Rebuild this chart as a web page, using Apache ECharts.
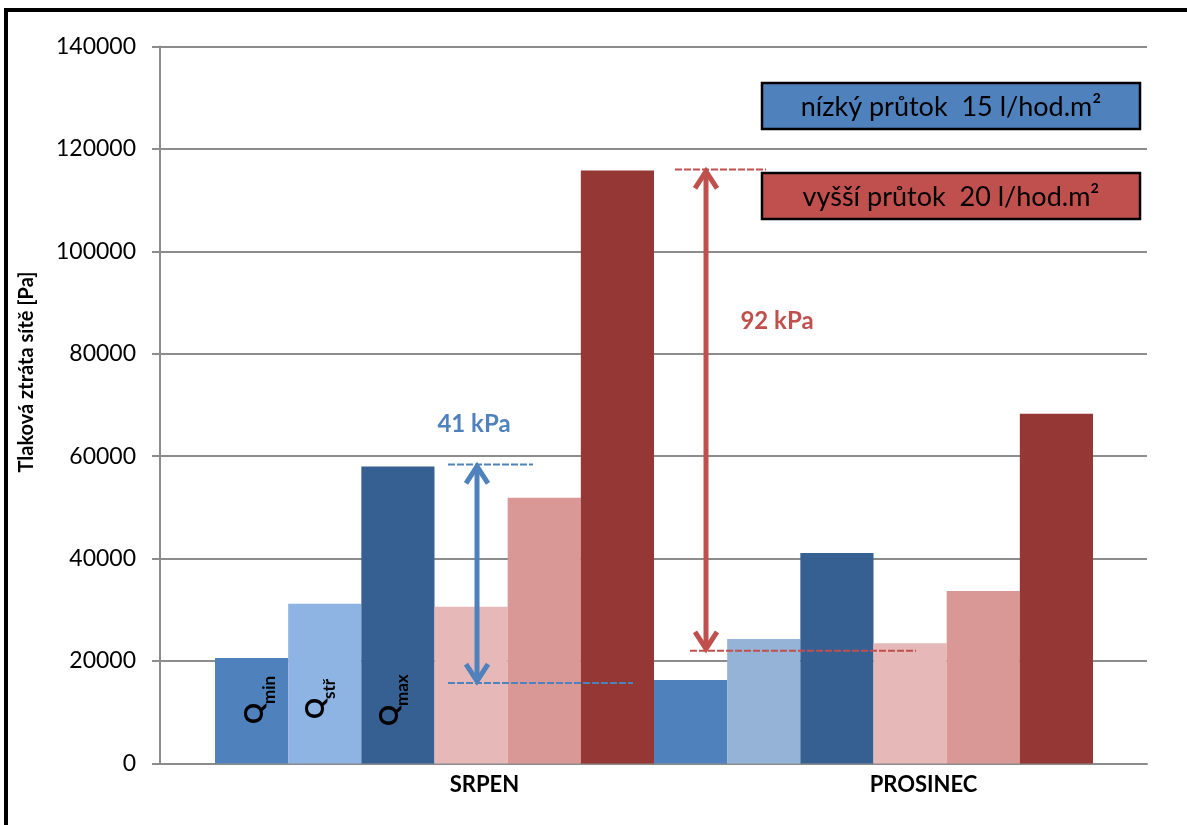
<!DOCTYPE html>
<html><head><meta charset="utf-8">
<script src="https://cdn.jsdelivr.net/npm/echarts@6/dist/echarts.min.js"></script>
<style>html,body{margin:0;padding:0;background:#fff}#c{width:1187px;height:825px}</style>
</head><body><div id="c"></div>
<script>
// ---- data ----
const categories = ['SRPEN', 'PROSINEC'];
const lowQmin  = [20600, 16300];
const lowQstr  = [31200, 24300];
const lowQmax  = [58000, 41100];
const highQmin = [30600, 23500];
const highQstr = [51900, 33700];
const highQmax = [115800, 68300];
const yMin = 0, yMax = 140000, yStep = 20000;
const legendLow  = 'nízký průtok  15 l/hod.m²';
const legendHigh = 'vyšší průtok  20 l/hod.m²';
const axisTitle = 'Tlaková ztráta sítě [Pa]';
const diffLow  = [15700, 58400];   // 41 kPa span
const diffHigh = [22000, 116000];  // 92 kPa span
const diffLowLabel = '41 kPa';
const diffHighLabel = '92 kPa';
const qSubs = ['min', 'stř', 'max'];

// ---- styles ----
const FONT = 'Lato';
const BLUE = '#4F81BD', RED = '#C0504D';
const GRID = '#8c8c8c';

const chart = echarts.init(document.getElementById('c'), null, {renderer: 'canvas'});

function bar(name, data, colors) {
  return {
    name, type: 'bar', xAxisIndex: 1, yAxisIndex: 1,
    data: data.map((v, i) => ({value: v, itemStyle: {color: colors[i]}})),
    barGap: '0%', barCategoryGap: '0%', silent: true
  };
}

chart.setOption({
  animation: false,
  backgroundColor: '#fff',
  grid: [
    {left: 160, right: 40, top: 46.5, bottom: 61.5},
    {left: 215, right: 94, top: 46.5, bottom: 61.5}
  ],
  xAxis: [
    {gridIndex: 0, type: 'category', data: [''], axisLine: {lineStyle: {color: GRID, width: 2}},
     axisTick: {show: false}, axisLabel: {show: false}},
    {gridIndex: 1, type: 'category', data: categories, axisLine: {show: false}, axisTick: {show: false},
     axisLabel: {fontFamily: FONT, fontWeight: 'bold', fontSize: 22, color: '#000', margin: 10,
                 padding: [0, 0, 0, 100]}}
  ],
  yAxis: [
    {gridIndex: 0, type: 'value', min: yMin, max: yMax, interval: yStep,
     axisLine: {show: true, lineStyle: {color: GRID, width: 2}},
     axisTick: {show: true, length: 8, lineStyle: {color: GRID, width: 2}},
     splitLine: {show: true, lineStyle: {color: GRID, width: 2}},
     axisLabel: {fontFamily: FONT, fontSize: 23, color: '#000', margin: 24,
                 formatter: v => String(v)}},
    {gridIndex: 1, type: 'value', min: yMin, max: yMax, interval: yStep, show: false,
     splitLine: {show: false}}
  ],
  series: [
    bar('nízký Qmin', lowQmin, ['#4F81BD', '#4F81BD']),
    bar('nízký Qstř', lowQstr, ['#8EB4E3', '#95B3D7']),
    bar('nízký Qmax', lowQmax, ['#376092', '#376092']),
    bar('vyšší Qmin', highQmin, ['#E6B9B8', '#E6B9B8']),
    bar('vyšší Qstř', highQstr, ['#D99795', '#D99795']),
    bar('vyšší Qmax', highQmax, ['#953735', '#953735'])
  ]
});

function py(v) { return chart.convertToPixel({yAxisIndex: 1}, v); }

function txt(x, y, text, size, weight, color, extra) {
  return Object.assign({type: 'text', x, y, z: 22,
    style: {text, fontFamily: FONT, fontSize: size, fontWeight: weight, fill: color,
            align: 'center', verticalAlign: 'middle'}}, extra || {});
}
function dashed(x1, x2, v, color) {
  const y = py(v);
  return {type: 'line', shape: {x1, y1: y, x2, y2: y}, z: 20,
          style: {stroke: color, lineWidth: 2, lineDash: [7, 2]}};
}
function arrow(x, vLow, vHigh, color) {
  const yT = py(vHigh), yB = py(vLow);
  return [
    {type: 'line', shape: {x1: x, y1: yT + 4, x2: x, y2: yB - 4}, z: 21,
     style: {stroke: color, lineWidth: 5}},
    {type: 'polyline', shape: {points: [[x - 11, yT + 19], [x, yT + 2], [x + 11, yT + 19]]}, z: 21,
     style: {stroke: color, lineWidth: 5, fill: null, lineJoin: 'miter'}},
    {type: 'polyline', shape: {points: [[x - 11, yB - 19], [x, yB - 2], [x + 11, yB - 19]]}, z: 21,
     style: {stroke: color, lineWidth: 5, fill: null, lineJoin: 'miter'}}
  ];
}
function legendBox(y, fill, text) {
  return [
    {type: 'rect', shape: {x: 762, y, width: 378, height: 46}, z: 30,
     style: {fill, stroke: '#000', lineWidth: 2.5}},
    txt(951, y + 24, text, 27, 'normal', '#000', {z: 31})
  ];
}
// rotated "Q" with subscript, reading bottom-to-top
function qLabel(qx, qBottom, sx, sub) {
  const rot = {rotation: Math.PI / 2, z: 25};
  const a = txt(qx, qBottom, 'Q', 26, 'bold', '#000', rot);
  a.style.align = 'left';
  const b = txt(sx, qBottom - 20, sub, 17, 'bold', '#000', rot);
  b.style.align = 'left';
  return [a, b];
}

const g = [];
g.push({type: 'rect', shape: {x: 6, y: 10, width: 1400, height: 1000}, z: 50,
        style: {fill: null, stroke: '#000', lineWidth: 4}});
g.push(txt(27, 372, axisTitle, 20, 'bold', '#000', {rotation: Math.PI / 2}));
g.push(...legendBox(83, BLUE, legendLow));
g.push(...legendBox(173, RED, legendHigh));
g.push(dashed(448, 533, diffLow[1], BLUE));
g.push(dashed(448, 633, diffLow[0], BLUE));
g.push(...arrow(477, diffLow[0], diffLow[1], BLUE));
g.push(dashed(675, 766, diffHigh[1], RED));
g.push(dashed(690, 916, diffHigh[0], RED));
g.push(...arrow(706, diffHigh[0], diffHigh[1], RED));
g.push(txt(474, 424, diffLowLabel, 24, 'bold', BLUE));
g.push(txt(777, 321, diffHighLabel, 24, 'bold', RED));
g.push(...qLabel(255, 724, 270, qSubs[0]));
g.push(...qLabel(316, 719, 330, qSubs[1]));
g.push(...qLabel(390, 726, 403, qSubs[2]));

chart.setOption({graphic: g});
</script></body></html>
